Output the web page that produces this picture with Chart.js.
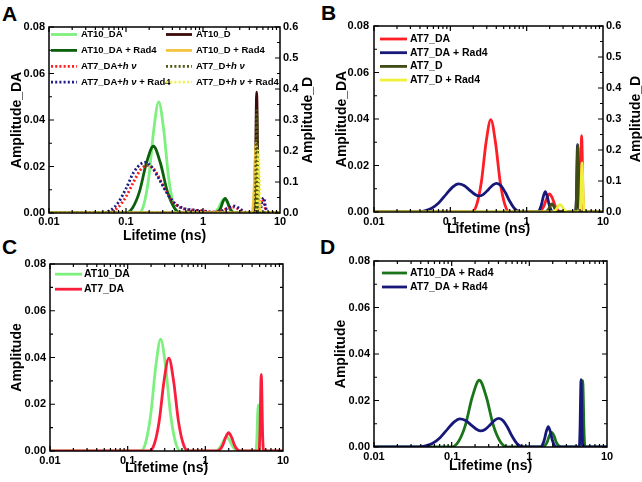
<!DOCTYPE html>
<html>
<head>
<meta charset="utf-8">
<script src="https://cdn.jsdelivr.net/npm/chart.js@4.4.1/dist/chart.umd.min.js"></script>
<style>
  body { margin: 0; background: #fff; width: 642px; height: 482px; position: relative; overflow: hidden; }
  canvas { position: absolute; }
  .tag { position: absolute; font: bold 21px "Liberation Sans", Arial, sans-serif; line-height: 1; }
</style>
</head>
<body>
<div class="tag" style="left:2px;top:3px">A</div>
<div class="tag" style="left:321px;top:2px">B</div>
<div class="tag" style="left:2px;top:236px">C</div>
<div class="tag" style="left:320px;top:236px">D</div>
<canvas id="chartA" width="320" height="245" style="left:0;top:0"></canvas>
<canvas id="chartB" width="322" height="245" style="left:320px;top:0"></canvas>
<canvas id="chartC" width="320" height="242" style="left:0;top:240px"></canvas>
<canvas id="chartD" width="322" height="242" style="left:320px;top:240px"></canvas>
<script>
// tick values
const xTicks = [0.01, 0.1, 1, 10];
const xTickLabels = ["0.01", "0.1", "1", "10"];
const yTicks = [0, 0.02, 0.04, 0.06, 0.08];
const y2Ticks = [0, 0.1, 0.2, 0.3, 0.4, 0.5, 0.6];

// lifetime distributions (x in ns)
const at10DA_x = [0.01, 0.148, 0.171, 0.198, 0.230, 0.266, 0.308, 0.357, 0.413, 0.479, 1.33, 1.45, 1.585, 1.73, 1.88, 2.05, 2.24, 2.44, 2.66, 4.467, 4.545, 4.624, 4.705, 4.786, 4.87, 4.955, 5.04, 5.129, 10];
const at10DA_y = [0, 0, 0.0038, 0.0155, 0.0361, 0.0478, 0.0361, 0.0155, 0.0038, 0, 0, 0.0005, 0.002, 0.0046, 0.0061, 0.0046, 0.002, 0.0005, 0, 0, 0.0016, 0.0064, 0.0149, 0.0197, 0.0149, 0.0064, 0.0016, 0, 0];

const at7DA_x = [0.01, 0.192, 0.2215, 0.255, 0.294, 0.339, 0.390, 0.450, 0.518, 0.597, 1.413, 1.54, 1.679, 1.83, 1.995, 2.175, 2.371, 2.585, 2.818, 4.898, 4.984, 5.070, 5.158, 5.248, 5.340, 5.433, 5.527, 5.623, 10];
const at7DA_y = [0, 0, 0.0032, 0.0129, 0.0300, 0.0397, 0.0300, 0.0129, 0.0032, 0, 0, 0.0006, 0.0025, 0.0059, 0.0078, 0.0059, 0.0025, 0.0006, 0, 0, 0.0026, 0.0107, 0.0248, 0.0328, 0.0248, 0.0107, 0.0026, 0, 0];

const at10DARad_x = [0.01, 0.0991, 0.122, 0.150, 0.1845, 0.227, 0.279, 0.344, 0.423, 0.520, 1.472, 1.578, 1.690, 1.811, 1.941, 2.080, 2.228, 2.388, 2.559, 4.539, 4.618, 4.699, 4.781, 4.864, 4.949, 5.035, 5.123, 5.212, 10];
const at10DARad_y = [0, 0, 0.0023, 0.0093, 0.0216, 0.0287, 0.0216, 0.0093, 0.0023, 0, 0, 0.0005, 0.002, 0.0048, 0.0063, 0.0048, 0.002, 0.0005, 0, 0, 0.0023, 0.0093, 0.0215, 0.0285, 0.0215, 0.0093, 0.0023, 0, 0];

const at7DARad_x = [0.01, 0.0355, 0.0447, 0.0562, 0.0708, 0.0891, 0.107, 0.127, 0.151, 0.182, 0.214, 0.234, 0.269, 0.316, 0.363, 0.405, 0.457, 0.525, 0.603, 0.692, 0.794, 0.912, 1.377, 1.462, 1.554, 1.652, 1.754, 1.862, 1.980, 2.104, 2.234, 4.385, 4.446, 4.508, 4.571, 4.634, 4.699, 4.764, 4.831, 4.898, 10];
const at7DARad_y = [0, 0, 0.0004, 0.0015, 0.0040, 0.0078, 0.0107, 0.0121, 0.0114, 0.0092, 0.0074, 0.0069, 0.0075, 0.0097, 0.0117, 0.0123, 0.0114, 0.0084, 0.0045, 0.0015, 0.0002, 0, 0, 0.0007, 0.0029, 0.0066, 0.0088, 0.0066, 0.0029, 0.0007, 0, 0, 0.0023, 0.0094, 0.0219, 0.029, 0.0219, 0.0094, 0.0023, 0, 0];

const at7DAhv_x = [0.01, 0.0447, 0.063, 0.0794, 0.1, 0.126, 0.158, 0.195, 0.240, 0.295, 0.363, 0.447, 0.562, 0.759, 1.0, 1.318, 1.66, 2.14, 2.51, 2.95, 3.55, 4.17, 5.25, 5.62, 5.96, 6.31, 6.76, 10];
const at7DAhv_y = [0, 0, 0.0006, 0.0025, 0.0070, 0.0135, 0.0190, 0.0205, 0.0180, 0.0125, 0.0070, 0.0035, 0.0018, 0.0012, 0.0008, 0.0004, 0.0008, 0.0020, 0.0025, 0.0015, 0.0002, 0, 0, 0.004, 0.006, 0.003, 0, 0];

const at7DAhvRad_x = [0.01, 0.0447, 0.063, 0.0794, 0.1, 0.126, 0.158, 0.178, 0.219, 0.275, 0.347, 0.437, 0.562, 0.759, 1.0, 1.318, 1.66, 2.14, 2.57, 3.02, 3.63, 4.17, 5.5, 5.82, 6.17, 6.46, 6.92, 10];
const at7DAhvRad_y = [0, 0, 0.0012, 0.0045, 0.0105, 0.0175, 0.0212, 0.0218, 0.0195, 0.0140, 0.0082, 0.0040, 0.0020, 0.0013, 0.0009, 0.0004, 0.0006, 0.0022, 0.0030, 0.0018, 0.0002, 0, 0, 0.005, 0.0065, 0.003, 0, 0];

// donor-only (right axis)
const at10D_x = [0.01, 4.645, 4.808, 4.892, 4.977, 5.064, 5.152, 5.333, 10];
const at10D_y = [0, 0, 0.127, 0.294, 0.39, 0.294, 0.127, 0, 0];
const at10DRad_x = [0.01, 4.325, 4.603, 4.748, 4.898, 5.052, 5.212, 5.546, 10];
const at10DRad_y = [0, 0, 0.073, 0.170, 0.225, 0.170, 0.073, 0, 0];
const at7Dhv_x = [0.01, 4.70, 4.85, 4.98, 5.11, 5.27, 10];
const at7Dhv_y = [0, 0, 0.11, 0.33, 0.11, 0, 0];
const at7DhvRad_x = [0.01, 4.90, 5.08, 5.25, 5.43, 5.62, 10];
const at7DhvRad_y = [0, 0, 0.07, 0.20, 0.07, 0, 0];
const at7D_x = [0.01, 1.738, 1.928, 2.030, 2.138, 2.252, 2.371, 2.630, 4.365, 4.519, 4.597, 4.677, 4.759, 4.842, 5.012, 10];
const at7D_y = [0, 0, 0.0085, 0.0196, 0.026, 0.0196, 0.0085, 0, 0, 0.070, 0.163, 0.216, 0.163, 0.070, 0, 0];
const at7DRad_x = [0.01, 2.148, 2.427, 2.576, 2.735, 2.904, 3.083, 3.483, 4.955, 5.129, 5.219, 5.309, 5.401, 5.495, 5.689, 10];
const at7DRad_y = [0, 0, 0.0078, 0.0181, 0.024, 0.0181, 0.0078, 0, 0, 0.051, 0.119, 0.158, 0.119, 0.051, 0, 0];

const FONT = "'Liberation Sans', Arial, sans-serif";
Chart.defaults.font.family = FONT;
Chart.defaults.color = "#000";

const DOT = [2, 2.2];

function line(label, xs, ys, color, dash, axis) {
  return {
    label,
    data: xs.map((x, i) => ({ x, y: ys[i] })),
    borderColor: color,
    borderWidth: 2.8,
    borderDash: dash || [],
    yAxisID: axis || "y",
    pointRadius: 0,
    cubicInterpolationMode: "monotone",
    fill: false
  };
}

function drawLabel(ctx, text, x, y, size) {
  const parts = text.split("hν");
  parts.forEach((p, i) => {
    ctx.font = `bold ${size}px ${FONT}`;
    ctx.fillText(p, x, y);
    x += ctx.measureText(p).width;
    if (i < parts.length - 1) {
      ctx.font = `italic bold ${size}px ${FONT}`;
      ctx.fillText("h ν", x, y);
      x += ctx.measureText("h ν").width;
    }
  });
}

// box frame with inward ticks, like the original
const framePlugin = {
  id: "frame",
  afterDatasetsDraw(chart, args, o) {
    const { ctx, chartArea: a } = chart;
    const x = chart.scales.x, y = chart.scales.y, y2 = chart.scales.y2;
    ctx.save();
    ctx.strokeStyle = "#000";
    ctx.lineWidth = 1.2;
    ctx.beginPath();
    xTicks.slice(0, -1).forEach(d => {
      for (let m = 1; m < 10; m++) {
        const px = x.getPixelForValue(d * m);
        const len = m === 1 ? 5 : 3;
        ctx.moveTo(px, a.bottom); ctx.lineTo(px, a.bottom - len);
        ctx.moveTo(px, a.top); ctx.lineTo(px, a.top + len);
      }
    });
    const marks = (scale, vals, right) => {
      vals.forEach((v, i) => {
        const list = [[v, 5]];
        if (i < vals.length - 1) list.push([(v + vals[i + 1]) / 2, 3]);
        list.forEach(([val, len]) => {
          const py = scale.getPixelForValue(val);
          if (right) { ctx.moveTo(a.right, py); ctx.lineTo(a.right - len, py); }
          else { ctx.moveTo(a.left, py); ctx.lineTo(a.left + len, py); }
        });
      });
    };
    marks(y, yTicks, false);
    if (y2) marks(y2, y2Ticks, true);
    else marks(y, yTicks, true);
    ctx.stroke();
    ctx.lineWidth = 1.5;
    ctx.strokeRect(a.left, a.top, a.right - a.left, a.bottom - a.top);
    if (o.rightTitle) {
      ctx.translate(chart.width - o.rightTitleOffset, (a.top + a.bottom) / 2);
      ctx.rotate(-Math.PI / 2);
      ctx.font = `bold 14px ${FONT}`;
      ctx.fillStyle = "#000";
      ctx.textAlign = "center";
      ctx.textBaseline = "middle";
      ctx.fillText(o.rightTitle, 0, 0);
    }
    ctx.restore();
  }
};

// legend inside the plot, in columns
const legendPlugin = {
  id: "boxLegend",
  afterDraw(chart, args, o) {
    const { ctx, chartArea: a } = chart;
    const ds = chart.data.datasets;
    ctx.save();
    ctx.fillStyle = "#000";
    ctx.textBaseline = "middle";
    o.cols.forEach((col, c) => {
      col.forEach((k, r) => {
        const d = ds[k];
        const x0 = a.left + o.colX[c];
        const yy = a.top + o.y0 + r * o.dy;
        ctx.strokeStyle = d.borderColor;
        ctx.lineWidth = 2.8;
        ctx.setLineDash(d.borderDash);
        ctx.beginPath();
        ctx.moveTo(x0, yy);
        ctx.lineTo(x0 + o.len, yy);
        ctx.stroke();
        ctx.setLineDash([]);
        drawLabel(ctx, d.label, x0 + o.len + o.gap, yy, o.size);
      });
    });
    ctx.restore();
  }
};

function makeChart(id, datasets, p) {
  datasets.forEach((d, i) => { d.order = datasets.length - i; });
  const tickFont = { size: 11, weight: "bold" };
  const titleFont = { size: 14, weight: "bold" };
  const scales = {
    x: {
      type: "logarithmic", min: 0.01, max: 10,
      grid: { display: false, drawTicks: false }, border: { display: false },
      afterBuildTicks: s => { s.ticks = xTicks.map(v => ({ value: v })); },
      afterFit: s => { s.height = p.xh; },
      ticks: { padding: p.xpad, font: tickFont, autoSkip: false, maxRotation: 0, callback: (v, i) => xTickLabels[i] },
      title: { display: true, text: "Lifetime (ns)", font: titleFont, padding: { top: 0, bottom: p.xtitlePad } }
    },
    y: {
      position: "left", min: 0, max: 0.08,
      grid: { display: false, drawTicks: false }, border: { display: false },
      afterBuildTicks: s => { s.ticks = yTicks.map(v => ({ value: v })); },
      afterFit: s => { s.width = p.yw; },
      ticks: { padding: p.ypad, font: tickFont, callback: v => v.toFixed(2) },
      title: { display: true, text: p.ytitle, font: titleFont, padding: { top: p.ytitlePad, bottom: 0 } }
    }
  };
  if (p.y2w) {
    scales.y2 = {
      position: "right", min: 0, max: 0.6,
      grid: { display: false, drawTicks: false }, border: { display: false },
      afterBuildTicks: s => { s.ticks = y2Ticks.map(v => ({ value: v })); },
      afterFit: s => { s.width = p.y2w; },
      ticks: { padding: 3, font: tickFont, callback: v => v.toFixed(1) }
    };
  }
  return new Chart(document.getElementById(id), {
    type: "line",
    data: { datasets },
    options: {
      responsive: false,
      animation: false,
      layout: { padding: { top: p.top, right: p.y2w ? 0 : p.padRight, left: 0, bottom: 0 } },
      plugins: {
        legend: { display: false },
        tooltip: { enabled: false },
        frame: { rightTitle: p.rightTitle, rightTitleOffset: p.rightTitleOffset },
        boxLegend: p.legend
      },
      scales
    },
    plugins: [framePlugin, legendPlugin]
  });
}

makeChart("chartA", [
  line("AT10_DA", at10DA_x, at10DA_y, "#7ef07e"),
  line("AT10_DA + Rad4", at10DARad_x, at10DARad_y, "#0c600c"),
  line("AT7_DA+hν", at7DAhv_x, at7DAhv_y, "#ff1c1c", DOT),
  line("AT7_DA+hν + Rad4", at7DAhvRad_x, at7DAhvRad_y, "#1c1c88", DOT),
  line("AT10_D", at10D_x, at10D_y, "#3d0b0b", null, "y2"),
  line("AT10_D + Rad4", at10DRad_x, at10DRad_y, "#f2c440", null, "y2"),
  line("AT7_D+hν", at7Dhv_x, at7Dhv_y, "#4a5a10", DOT, "y2"),
  line("AT7_D+hν + Rad4", at7DhvRad_x, at7DhvRad_y, "#f2f04a", DOT, "y2")
], {
  top: 27, xh: 32, xpad: 2, xtitlePad: 0, yw: 49, ypad: 4, y2w: 40,
  ytitle: "Amplitude_DA", ytitlePad: 8.3, rightTitle: "Amplitude_D", rightTitleOffset: 12,
  legend: { cols: [[0, 1, 2, 3], [4, 5, 6, 7]], colX: [2, 117], y0: 7.5, dy: 15.9, len: 26, gap: 4, size: 9.5 }
});

makeChart("chartB", [
  line("AT7_DA", at7DA_x, at7DA_y, "#ff1e26"),
  line("AT7_DA + Rad4", at7DARad_x, at7DARad_y, "#17187a"),
  line("AT7_D", at7D_x, at7D_y, "#3f4c14", null, "y2"),
  line("AT7_D + Rad4", at7DRad_x, at7DRad_y, "#eef03a", null, "y2")
], {
  top: 26, xh: 33, xpad: 3, xtitlePad: 7.9, yw: 54, ypad: 5, y2w: 39,
  ytitle: "Amplitude_DA", ytitlePad: 13.3, rightTitle: "Amplitude_D", rightTitleOffset: 6,
  legend: { cols: [[0, 1, 2, 3]], colX: [6], y0: 13, dy: 13.7, len: 27, gap: 3, size: 10.5 }
});

makeChart("chartC", [
  line("AT10_DA", at10DA_x, at10DA_y, "#7ef07e"),
  line("AT7_DA", at7DA_x, at7DA_y, "#fa1e3c")
], {
  top: 24, xh: 31, xpad: 3, xtitlePad: 5, yw: 50, ypad: 4, padRight: 37,
  ytitle: "Amplitude", ytitlePad: 8.3,
  legend: { cols: [[0, 1]], colX: [5], y0: 10.2, dy: 15, len: 27, gap: 2, size: 10.5 }
});

makeChart("chartD", [
  line("AT10_DA + Rad4", at10DARad_x, at10DARad_y, "#1a751a"),
  line("AT7_DA + Rad4", at7DARad_x, at7DARad_y, "#17187a")
], {
  top: 21, xh: 35, xpad: 3, xtitlePad: 7.8, yw: 54, ypad: 4, padRight: 35,
  ytitle: "Amplitude", ytitlePad: 12.4,
  legend: { cols: [[0, 1]], colX: [8], y0: 12, dy: 14, len: 25, gap: 3, size: 10.5 }
});
</script>
</body>
</html>
